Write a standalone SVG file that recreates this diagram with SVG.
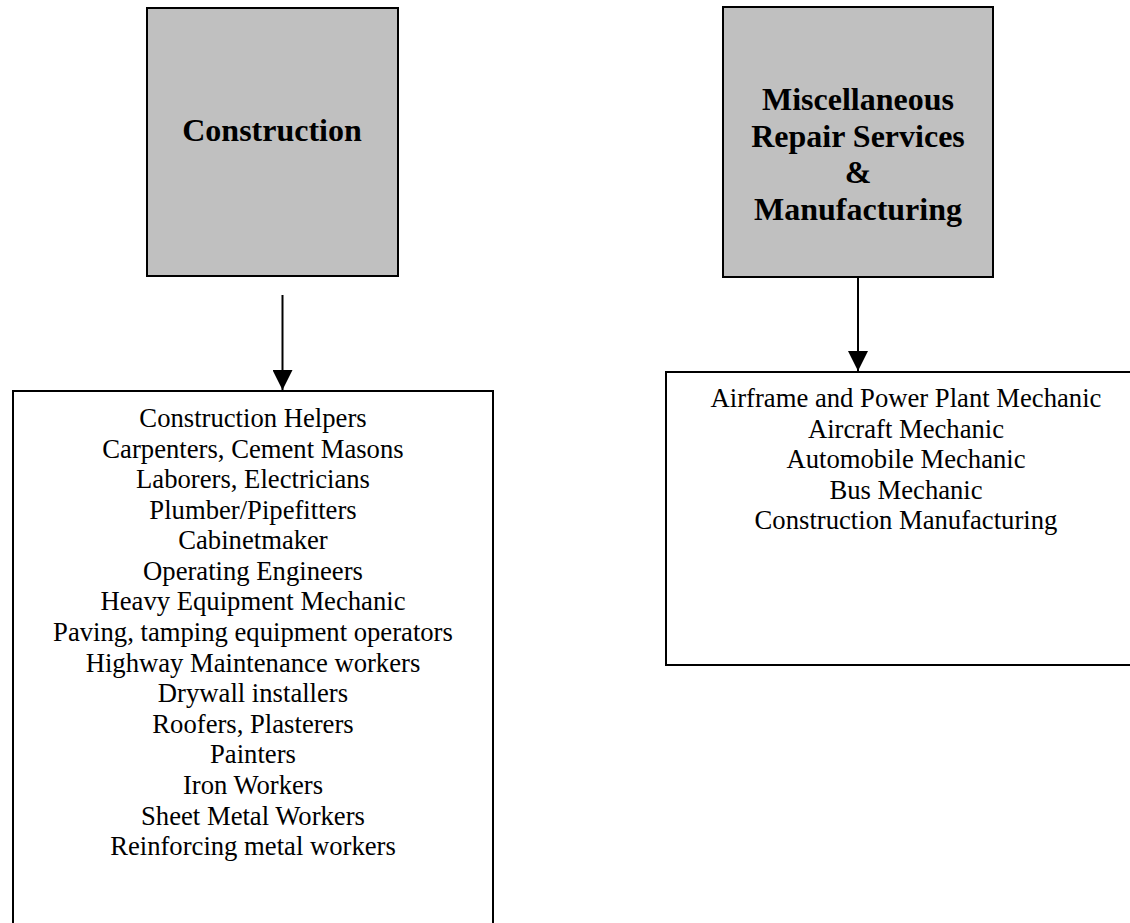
<svg xmlns="http://www.w3.org/2000/svg" width="1130" height="923" viewBox="0 0 1130 923">
<style>
.hdr{fill:#c0c0c0;stroke:#000;stroke-width:2}
.box{fill:#fff;stroke:#000;stroke-width:2}
.t{font-family:"Liberation Serif","Times New Roman",serif;text-anchor:middle;fill:#000}
.b{font-weight:bold;font-size:32px}
.r{font-size:26.67px}
.ln{stroke:#000;stroke-width:2;fill:none}
</style>
<defs>
<marker id="ah" markerUnits="userSpaceOnUse" markerWidth="22" markerHeight="20" refX="20" refY="10" orient="auto">
<path d="M0,0 L20,10 L0,20 Z" fill="#000"/>
</marker>
</defs>
<rect width="1130" height="923" fill="#fff"/>
<g id="construction">
<rect class="hdr" x="147" y="8" width="251" height="268"/>
<text class="t b" x="272" y="141">Construction</text>
</g>
<g id="misc">
<rect class="hdr" x="723" y="7" width="270" height="270"/>
<text class="t b" x="858" y="110">Miscellaneous</text>
<text class="t b" x="858" y="147">Repair Services</text>
<text class="t b" x="858" y="183">&amp;</text>
<text class="t b" x="858" y="220">Manufacturing</text>
</g>
<g id="construction-list">
<rect class="box" x="13" y="391" width="480" height="545"/>
<text class="t r" x="253" y="427">Construction Helpers</text>
<text class="t r" x="253" y="457.5">Carpenters, Cement Masons</text>
<text class="t r" x="253" y="488">Laborers, Electricians</text>
<text class="t r" x="253" y="518.5">Plumber/Pipefitters</text>
<text class="t r" x="253" y="549">Cabinetmaker</text>
<text class="t r" x="253" y="579.5">Operating Engineers</text>
<text class="t r" x="253" y="610">Heavy Equipment Mechanic</text>
<text class="t r" x="253" y="641">Paving, tamping equipment operators</text>
<text class="t r" x="253" y="671.5">Highway Maintenance workers</text>
<text class="t r" x="253" y="702">Drywall installers</text>
<text class="t r" x="253" y="732.5">Roofers, Plasterers</text>
<text class="t r" x="253" y="763">Painters</text>
<text class="t r" x="253" y="794">Iron Workers</text>
<text class="t r" x="253" y="824.5">Sheet Metal Workers</text>
<text class="t r" x="253" y="855">Reinforcing metal workers</text>
</g>
<g id="misc-list">
<rect class="box" x="666" y="372" width="480" height="293"/>
<text class="t r" x="906" y="407">Airframe and Power Plant Mechanic</text>
<text class="t r" x="906" y="437.5">Aircraft Mechanic</text>
<text class="t r" x="906" y="468">Automobile Mechanic</text>
<text class="t r" x="906" y="498.5">Bus Mechanic</text>
<text class="t r" x="906" y="529">Construction Manufacturing</text>
</g>
<g id="connectors">
<line class="ln" x1="282.5" y1="295" x2="282.5" y2="390" marker-end="url(#ah)"/>
<line class="ln" x1="858" y1="277" x2="858" y2="371" marker-end="url(#ah)"/>
</g>
</svg>
